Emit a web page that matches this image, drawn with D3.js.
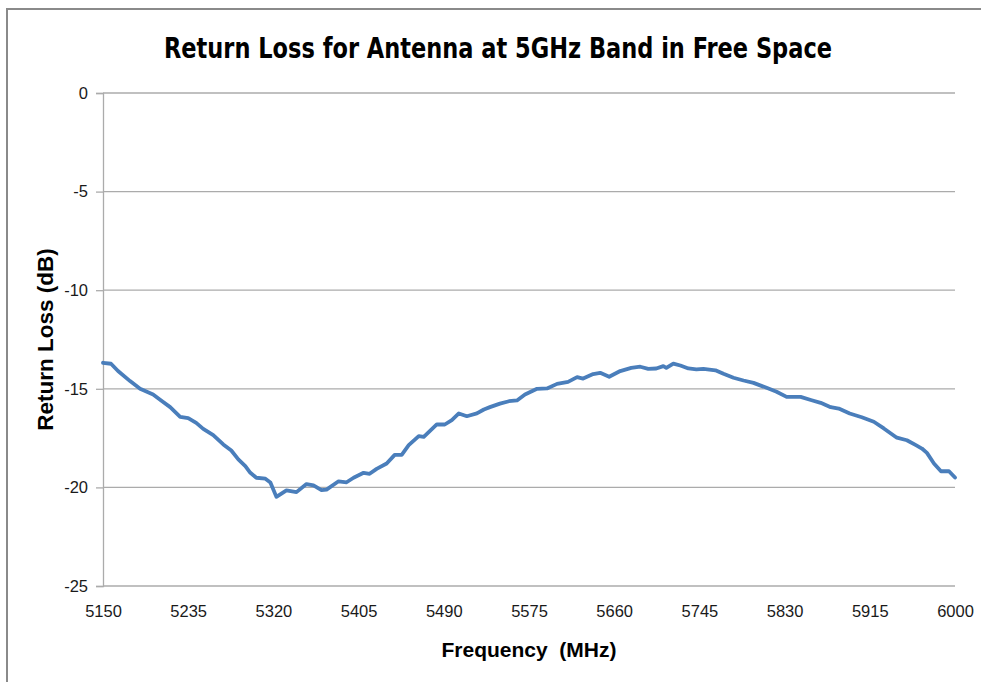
<!DOCTYPE html>
<html>
<head>
<meta charset="utf-8">
<script src="https://cdn.jsdelivr.net/npm/d3@7"></script>
<style>
    body { margin: 0; background: #fff; }
    svg { display: block; }
    .tick text { font-family: "Liberation Sans", sans-serif; font-size: 16.5px; fill: #1a1a1a; }
    .label { font-family: "Liberation Sans", sans-serif; font-weight: bold; fill: #000; white-space: pre; }
</style>
</head>
<body>
<svg width="981" height="682"></svg>
<script>
// frequency points (MHz)
var freq = [
    5150, 5158, 5165, 5177, 5187, 5200, 5209, 5217, 5227, 5235,
    5243, 5250, 5260, 5270, 5278, 5285, 5292, 5297, 5303, 5312,
    5317, 5323, 5333, 5343, 5353, 5360, 5368, 5373, 5385, 5393,
    5400, 5410, 5416, 5423, 5433, 5441, 5448, 5455, 5465, 5470,
    5483, 5491, 5498, 5505, 5513, 5523, 5530, 5536, 5546, 5555,
    5563, 5571, 5583, 5593, 5603, 5614, 5623, 5629, 5639, 5646,
    5655, 5666, 5677, 5686, 5694, 5702, 5709, 5712, 5719, 5726,
    5734, 5742, 5749, 5761, 5769, 5779, 5789, 5799, 5812, 5822,
    5832, 5846, 5857, 5866, 5876, 5884, 5895, 5907, 5919, 5929,
    5942, 5952, 5961, 5967, 5972, 5979, 5986, 5994, 6000
];
// return loss (dB)
var returnLoss = [
    -13.68, -13.73, -14.1, -14.61, -15.0, -15.29, -15.63, -15.93, -16.42, -16.49,
    -16.73, -17.03, -17.35, -17.82, -18.13, -18.58, -18.92, -19.26, -19.51, -19.56,
    -19.75, -20.48, -20.15, -20.24, -19.83, -19.9, -20.14, -20.11, -19.69, -19.74,
    -19.51, -19.26, -19.31, -19.06, -18.79, -18.35, -18.35, -17.86, -17.4, -17.44,
    -16.81, -16.81, -16.59, -16.25, -16.39, -16.25, -16.05, -15.93, -15.75, -15.63,
    -15.59, -15.29, -15.0, -14.98, -14.75, -14.65, -14.41, -14.48, -14.25, -14.19,
    -14.39, -14.1, -13.94, -13.88, -13.99, -13.97, -13.85, -13.94, -13.72, -13.82,
    -13.97, -14.02, -13.99, -14.06, -14.24, -14.44, -14.58, -14.7, -14.95, -15.15,
    -15.41, -15.41, -15.58, -15.71, -15.93, -16.0, -16.25, -16.44, -16.67, -17.01,
    -17.48, -17.61, -17.86, -18.03, -18.25, -18.79, -19.18, -19.18, -19.5
];
var xTicks = [5150, 5235, 5320, 5405, 5490, 5575, 5660, 5745, 5830, 5915, 6000];
var yTicks = [0, -5, -10, -15, -20, -25];

var title = "Return Loss for Antenna at 5GHz Band in Free Space";
var xTitle = "Frequency  (MHz)";
var yTitle = "Return Loss (dB)";

var margin = {top: 93, left: 103, right: 26, bottom: 96}; // px
var width = 981, height = 682;
var svg = d3.select("svg");

// outer chart frame
svg.append("path")
    .attr("d", "M7,682 V9 H981")
    .attr("fill", "none")
    .attr("stroke", "#8a8a8a")
    .attr("stroke-width", 2);

var x = d3.scaleLinear()
    .domain([5150, 6000])
    .range([margin.left, width - margin.right]);
var y = d3.scaleLinear()
    .domain([-25, 0])
    .range([height - margin.bottom, margin.top]);

// horizontal gridlines
svg.append("g")
    .selectAll("line")
    .data(yTicks)
    .join("line")
    .attr("x1", margin.left)
    .attr("x2", width - margin.right)
    .attr("y1", d => y(d))
    .attr("y2", d => y(d))
    .attr("stroke", "#ababab")
    .attr("stroke-width", 1.3);

// y axis
var yAxis = d3.axisLeft(y).tickValues(yTicks).tickSize(7).tickPadding(8)
    .tickFormat(d => d === 0 ? "0" : "-" + Math.abs(d));
var yAxisGroup = svg.append("g")
    .attr("transform", "translate(" + margin.left + ",0)")
    .call(yAxis);
yAxisGroup.select(".domain").attr("stroke", "#ababab").attr("stroke-width", 1.3);
yAxisGroup.selectAll(".tick line").attr("stroke", "#ababab").attr("stroke-width", 1.3);

// x axis (labels only)
var xAxis = d3.axisBottom(x).tickValues(xTicks).tickSize(0).tickPadding(19)
    .tickFormat(d3.format("d"));
var xAxisGroup = svg.append("g")
    .attr("transform", "translate(0," + y(-25) + ")")
    .call(xAxis);
xAxisGroup.select(".domain").remove();

// the curve
var line = d3.line()
    .x((d, i) => x(freq[i]))
    .y(d => y(d));
svg.append("path")
    .datum(returnLoss)
    .attr("fill", "none")
    .attr("stroke", "#4a7ebb")
    .attr("stroke-width", 3.8)
    .attr("stroke-linejoin", "round")
    .attr("stroke-linecap", "round")
    .attr("d", line);

// titles
svg.append("text")
    .attr("class", "label")
    .attr("x", 498)
    .attr("y", 58)
    .attr("text-anchor", "middle")
    .style("font-family", "'DejaVu Sans Condensed', 'Liberation Sans', sans-serif")
    .style("font-size", "28px")
    .attr("textLength", 668)
    .attr("lengthAdjust", "spacingAndGlyphs")
    .text(title);

svg.append("text")
    .attr("class", "label")
    .attr("x", 529)
    .attr("y", 657)
    .attr("text-anchor", "middle")
    .style("font-size", "21px")
    .text(xTitle);

svg.append("text")
    .attr("class", "label")
    .attr("transform", "translate(53," + y(-12.5) + ") rotate(-90)")
    .attr("text-anchor", "middle")
    .style("font-size", "22.5px")
    .text(yTitle);
</script>
</body>
</html>
